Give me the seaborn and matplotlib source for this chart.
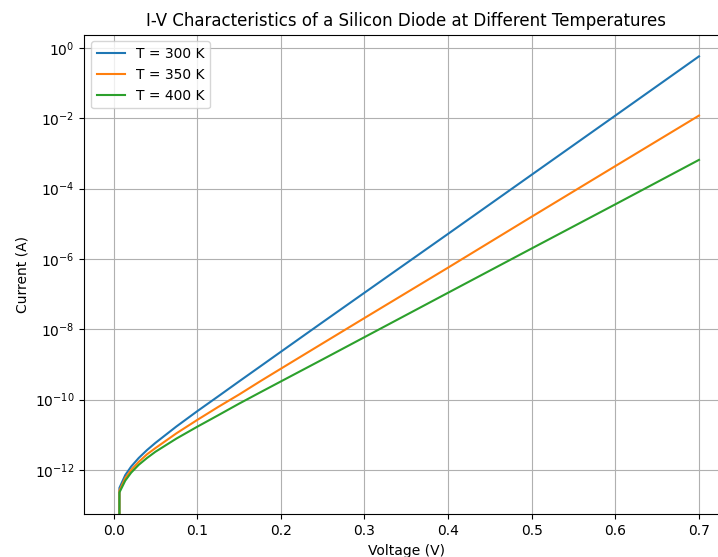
import numpy as np
import pandas as pd
import matplotlib
matplotlib.use("Agg")
import matplotlib.pyplot as plt
import seaborn as sns

voltage = [0.0, 0.007, 0.014, 0.021, 0.03, 0.04, 0.05, 0.075, 0.1, 0.125,
           0.15, 0.175, 0.2, 0.25, 0.3, 0.4, 0.5, 0.6, 0.7]

# current (A) for each temperature
current_300 = [0.0, 3.1e-13, 7.2e-13, 1.25e-12, 2.19e-12, 3.7e-12, 5.9e-12,
               1.72e-11, 4.7e-11, 1.24e-10, 3.3e-10, 8.7e-10, 2.3e-9,
               1.6e-8, 1.1e-7, 5.2e-6, 2.5e-4, 1.2e-2, 0.58]
current_350 = [0.0, 2.6e-13, 5.9e-13, 1.0e-12, 1.7e-12, 2.8e-12, 4.2e-12,
               1.1e-11, 2.65e-11, 6.2e-11, 1.4e-10, 3.3e-10, 7.6e-10,
               4.0e-9, 2.1e-8, 5.7e-7, 1.6e-5, 4.4e-4, 1.2e-2]
current_400 = [0.0, 2.3e-13, 5.0e-13, 8.4e-13, 1.4e-12, 2.2e-12, 3.3e-12,
               7.8e-12, 1.7e-11, 3.6e-11, 7.7e-11, 1.6e-10, 3.3e-10,
               1.4e-9, 6.0e-9, 1.1e-7, 2.0e-6, 3.6e-5, 6.6e-4]

labels = ["T = 300 K", "T = 350 K", "T = 400 K"]

df = pd.concat([
    pd.DataFrame({"Voltage": voltage, "Current": cur, "T": lab})
    for cur, lab in zip([current_300, current_350, current_400], labels)
])

fig = plt.figure(figsize=(7.18, 5.57), dpi=100)
# the original image is cropped on the right, so the axes run past the edge
ax = fig.add_axes([0.1174, 0.0767, 0.8969, 0.8613])

sns.lineplot(data=df, x="Voltage", y="Current", hue="T", ax=ax,
             sort=False, estimator=None, linewidth=1.5)
ax.set_yscale("log")
ax.grid(True)
ax.set_xlabel("Voltage (V)")
ax.set_ylabel("Current (A)")
ax.set_title("I-V Characteristics of a Silicon Diode at Different Temperatures")
ax.legend(loc="upper left")

fig.savefig("out.png", dpi=100)
